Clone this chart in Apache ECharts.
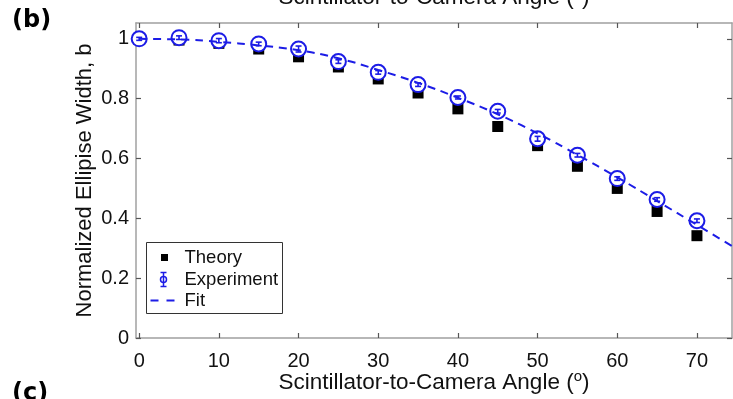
<!DOCTYPE html>
<html>
<head>
<meta charset="utf-8">
<script src="https://cdn.jsdelivr.net/npm/echarts@6/dist/echarts.min.js"></script>
<style>
  html, body { margin: 0; padding: 0; background: #fff; }
  #chart { width: 733px; height: 399px; }
</style>
</head>
<body>
<div id="chart"></div>
<script>
// values
const angles = [0, 5, 10, 15, 20, 25, 30, 35, 40, 45, 50, 55, 60, 65, 70];
const theory = [0.998, 0.996, 0.985, 0.966, 0.940, 0.906, 0.866, 0.819, 0.766, 0.707, 0.643, 0.574, 0.500, 0.423, 0.342];
const experiment = [1.000, 1.004, 0.994, 0.983, 0.966, 0.924, 0.888, 0.847, 0.804, 0.758, 0.666, 0.611, 0.533, 0.463, 0.392];
const expError = [0.005, 0.006, 0.007, 0.006, 0.010, 0.006, 0.006, 0.006, 0.005, 0.006, 0.008, 0.006, 0.006, 0.006, 0.006];
const fitAngles = [0, 5, 10, 15, 20, 25, 30, 35, 40, 45, 50, 55, 60, 65, 70, 75];
const fitValues = [1.000, 0.998, 0.990, 0.978, 0.962, 0.935, 0.896, 0.853, 0.803, 0.748, 0.684, 0.612, 0.537, 0.458, 0.378, 0.298];
const xTicks = [0, 10, 20, 30, 40, 50, 60, 70];
const yTicks = [0, 0.2, 0.4, 0.6, 0.8, 1];

const FONT = 'Liberation Sans';
const BLUE = '#1c1ce6';
const xName = 'Scintillator-to-Camera Angle ({sup|o})';
const nameRich = { sup: { fontSize: 15, fontFamily: FONT, color: '#111', padding: [0, 0, 12, 0] } };

const chart = echarts.init(document.getElementById('chart'));

const frameLine = { show: true, onZero: false, lineStyle: { color: '#a0a0a0', width: 1.5 } };
const tickStyle = { show: true, inside: true, length: 5, lineStyle: { color: '#555', width: 1.2 } };

chart.setOption({
  backgroundColor: '#fff',
  animation: false,
  grid: { left: 136, right: 1, top: 23, bottom: 61, containLabel: false, outerBoundsMode: 'none' },
  xAxis: [{
    type: 'value', min: -0.4, max: 74.4, position: 'bottom',
    name: xName, nameLocation: 'middle', nameGap: 31, nameMoveOverlap: false,
    nameTextStyle: { fontSize: 22.5, color: '#111', fontFamily: FONT, rich: nameRich },
    axisLine: frameLine,
    axisTick: Object.assign({ customValues: xTicks }, tickStyle),
    axisLabel: { customValues: xTicks, fontSize: 20, color: '#111', fontFamily: FONT, margin: 13 },
    splitLine: { show: false }
  }, {
    type: 'value', min: -0.4, max: 74.4, position: 'top',
    name: xName, nameLocation: 'middle', nameGap: 12, nameMoveOverlap: false,
    nameTextStyle: { fontSize: 22.5, color: '#111', fontFamily: FONT, rich: nameRich },
    axisLine: frameLine,
    axisTick: Object.assign({ customValues: xTicks }, tickStyle),
    axisLabel: { show: false },
    splitLine: { show: false }
  }],
  yAxis: [{
    type: 'value', min: 0, max: 1.053, position: 'left',
    name: 'Normalized Ellipise Width, b', nameLocation: 'middle', nameGap: 40, nameMoveOverlap: false,
    nameTextStyle: { fontSize: 22, color: '#111', fontFamily: FONT },
    axisLine: frameLine,
    axisTick: Object.assign({ customValues: yTicks }, tickStyle),
    axisLabel: {
      customValues: yTicks, fontSize: 20, color: '#111', fontFamily: FONT, margin: 7,
      formatter: v => String(+v.toFixed(1))
    },
    splitLine: { show: false }
  }, {
    type: 'value', min: 0, max: 1.053, position: 'right',
    axisLine: frameLine,
    axisTick: Object.assign({ customValues: yTicks }, tickStyle),
    axisLabel: { show: false },
    splitLine: { show: false }
  }],
  series: [
    {
      name: 'Theory', type: 'scatter', z: 2,
      symbol: 'rect', symbolSize: 11,
      itemStyle: { color: '#000', opacity: 1 },
      data: angles.map((a, i) => [a, theory[i]])
    },
    {
      name: 'Experiment', type: 'scatter', z: 3,
      symbol: 'emptyCircle', symbolSize: 15,
      itemStyle: { color: BLUE, borderColor: BLUE, borderWidth: 2, opacity: 1 },
      data: angles.map((a, i) => [a, experiment[i]])
    },
    {
      name: 'Experiment error', type: 'custom', z: 4,
      data: angles.map((a, i) => [a, experiment[i], expError[i]]),
      renderItem: (params, api) => {
        const x = api.value(0), y = api.value(1), e = api.value(2);
        const lo = api.coord([x, y - e]);
        const hi = api.coord([x, y + e]);
        const w = 3;
        const st = { stroke: BLUE, lineWidth: 1.6 };
        return {
          type: 'group',
          children: [
            { type: 'line', shape: { x1: lo[0], y1: lo[1], x2: hi[0], y2: hi[1] }, style: st },
            { type: 'line', shape: { x1: lo[0] - w, y1: lo[1], x2: lo[0] + w, y2: lo[1] }, style: st },
            { type: 'line', shape: { x1: hi[0] - w, y1: hi[1], x2: hi[0] + w, y2: hi[1] }, style: st }
          ]
        };
      }
    },
    {
      name: 'Fit', type: 'line', z: 5,
      smooth: true, symbol: 'none',
      lineStyle: { color: BLUE, width: 2, type: [8, 6] },
      data: fitAngles.map((a, i) => [a, fitValues[i]])
    }
  ],
  graphic: [
    { type: 'text', left: 12, top: 9, z: 10,
      style: { text: '(b)', font: 'bold 24px "DejaVu Sans"', fill: '#000' } },
    { type: 'text', left: 12, top: 382, z: 10,
      style: { text: '(c)', font: 'bold 24px "DejaVu Sans"', fill: '#000' } },
    { type: 'group', left: 146, top: 242, z: 20, children: [
      { type: 'rect', shape: { x: 0, y: 0, width: 136, height: 71 },
        style: { fill: '#fff', stroke: '#333', lineWidth: 1 } },
      { type: 'rect', shape: { x: 14.5, y: 11.5, width: 7, height: 7 }, style: { fill: '#000' } },
      { type: 'circle', shape: { cx: 17, cy: 37, r: 3 }, style: { fill: 'none', stroke: BLUE, lineWidth: 1.5 } },
      { type: 'line', shape: { x1: 17, y1: 30, x2: 17, y2: 44 }, style: { stroke: BLUE, lineWidth: 1.5 } },
      { type: 'line', shape: { x1: 14, y1: 30, x2: 20, y2: 30 }, style: { stroke: BLUE, lineWidth: 1.5 } },
      { type: 'line', shape: { x1: 14, y1: 44, x2: 20, y2: 44 }, style: { stroke: BLUE, lineWidth: 1.5 } },
      { type: 'line', shape: { x1: 4, y1: 58, x2: 30, y2: 58 },
        style: { stroke: BLUE, lineWidth: 2, lineDash: [8, 8] } },
      { type: 'text', x: 38, y: 15, style: { text: 'Theory', font: '18.5px "Liberation Sans"', fill: '#111', verticalAlign: 'middle' } },
      { type: 'text', x: 38, y: 37, style: { text: 'Experiment', font: '18.5px "Liberation Sans"', fill: '#111', verticalAlign: 'middle' } },
      { type: 'text', x: 38, y: 58, style: { text: 'Fit', font: '18.5px "Liberation Sans"', fill: '#111', verticalAlign: 'middle' } }
    ] }
  ]
});
</script>
</body>
</html>
